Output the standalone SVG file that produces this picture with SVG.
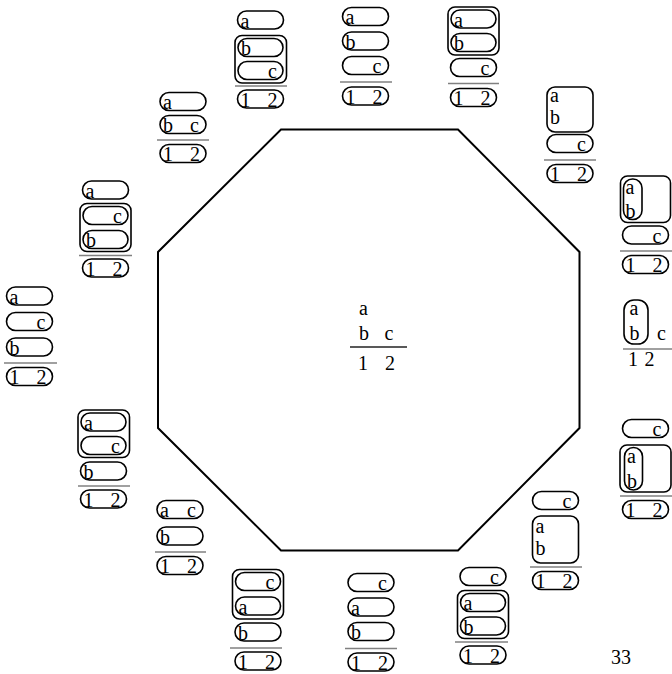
<svg xmlns="http://www.w3.org/2000/svg" width="672" height="674" viewBox="0 0 672 674" font-family="Liberation Serif, Times New Roman, serif" font-size="20">
<style>
.p{fill:none;stroke:#000;stroke-width:1.6}
.r{stroke:#808080;stroke-width:1.6}
text{font-family:'Liberation Serif','Times New Roman',serif;font-size:20px;fill:#000}
</style>
<rect width="672" height="674" fill="#fff"/>
<g id="octagon">
<polygon points="281,129.5 458,129.5 579.5,252 579.5,428 458,550.5 281,550.5 158,428 158,252" fill="none" stroke="#000" stroke-width="2"/>
</g>
<g id="n-center">
<text x="359" y="315">a</text>
<text x="359" y="340">b</text>
<text x="384.5" y="340">c</text>
<line x1="350" y1="347" x2="407" y2="347" stroke="#222" stroke-width="1.3"/>
<text x="358" y="370">1</text>
<text x="385" y="370">2</text>
</g>
<g id="n-top">
<rect class="p" x="342.5" y="7.5" width="46" height="18" rx="9"/><text x="345.5" y="24">a</text>
<rect class="p" x="342.5" y="32" width="46" height="18" rx="9"/><text x="345.5" y="48.5">b</text>
<rect class="p" x="342.5" y="56.5" width="46" height="18" rx="9"/><text x="372.5" y="73">c</text>
<line class="r" x1="340" y1="82" x2="392" y2="82"/>
<rect class="p" x="342.5" y="87" width="46" height="18" rx="9"/><text x="345.5" y="103.5">1</text><text x="372.5" y="103.5">2</text>
</g>
<g id="n-1">
<rect class="p" x="448" y="7" width="51" height="48" rx="7"/>
<rect class="p" x="451" y="10" width="45" height="18" rx="9"/><text x="454" y="26.5">a</text>
<rect class="p" x="451" y="33.5" width="45" height="18" rx="9"/><text x="454" y="50">b</text>
<rect class="p" x="450.5" y="58.5" width="46" height="18" rx="9"/><text x="480.5" y="75">c</text>
<line class="r" x1="448" y1="83.5" x2="499" y2="83.5"/>
<rect class="p" x="450.5" y="88.5" width="46" height="18" rx="9"/><text x="453.5" y="105">1</text><text x="480.5" y="105">2</text>
</g>
<g id="n-2">
<rect class="p" x="547" y="87" width="46" height="45" rx="8"/>
<text x="550" y="102">a</text><text x="550" y="123.5">b</text>
<rect class="p" x="547" y="134.5" width="46" height="18" rx="9"/><text x="577" y="151">c</text>
<line class="r" x1="544" y1="160" x2="596" y2="160"/>
<rect class="p" x="547" y="164.5" width="46" height="18" rx="9"/><text x="550" y="181">1</text><text x="577" y="181">2</text>
</g>
<g id="n-3">
<rect class="p" x="620.5" y="176" width="50" height="46.5" rx="7"/>
<rect class="p" x="623.5" y="179" width="18.5" height="40.5" rx="9"/>
<text x="625.5" y="194">a</text><text x="625.5" y="217.5">b</text>
<rect class="p" x="622.5" y="226" width="46" height="18" rx="9"/><text x="652.5" y="242.5">c</text>
<line class="r" x1="620" y1="251" x2="672" y2="251"/>
<rect class="p" x="622.5" y="255.5" width="46" height="18" rx="9"/><text x="625.5" y="272">1</text><text x="652.5" y="272">2</text>
</g>
<g id="n-4">
<rect class="p" x="624" y="300" width="24" height="44" rx="10"/>
<text x="629.5" y="315">a</text><text x="629.5" y="340">b</text><text x="657" y="340">c</text>
<line class="r" x1="623" y1="349" x2="672" y2="349"/>
<text x="628" y="366">1</text><text x="644.5" y="366">2</text>
</g>
<g id="n-5">
<rect class="p" x="622.5" y="419.5" width="46" height="18" rx="9"/><text x="652.5" y="436">c</text>
<rect class="p" x="620" y="445" width="51" height="47" rx="7"/>
<rect class="p" x="624.5" y="447.5" width="18" height="42.5" rx="9"/>
<text x="627" y="463">a</text><text x="627" y="487.5">b</text>
<line class="r" x1="620" y1="496" x2="672" y2="496"/>
<rect class="p" x="622.5" y="500.5" width="46" height="18" rx="9"/><text x="625.5" y="517">1</text><text x="652.5" y="517">2</text>
</g>
<g id="n-6">
<rect class="p" x="532.5" y="491.5" width="46" height="18" rx="9"/><text x="562.5" y="508">c</text>
<rect class="p" x="532.5" y="516" width="46" height="47" rx="8"/>
<text x="535.5" y="533">a</text><text x="535.5" y="555">b</text>
<line class="r" x1="530" y1="567" x2="582" y2="567"/>
<rect class="p" x="532.5" y="571.5" width="46" height="18" rx="9"/><text x="535.5" y="588">1</text><text x="562.5" y="588">2</text>
</g>
<g id="n-7">
<rect class="p" x="460" y="567.5" width="46" height="18" rx="9"/><text x="490" y="584">c</text>
<rect class="p" x="457.5" y="590.5" width="51" height="48" rx="7"/>
<rect class="p" x="460.5" y="593.5" width="45" height="18" rx="9"/><text x="463.5" y="610">a</text>
<rect class="p" x="460.5" y="617" width="45" height="18" rx="9"/><text x="463.5" y="633.5">b</text>
<line class="r" x1="455" y1="642" x2="508" y2="642"/>
<rect class="p" x="460" y="646" width="46" height="18" rx="9"/><text x="463" y="662.5">1</text><text x="490" y="662.5">2</text>
</g>
<g id="n-8">
<rect class="p" x="348" y="573.5" width="46" height="18" rx="9"/><text x="378" y="590">c</text>
<rect class="p" x="348" y="598" width="46" height="18" rx="9"/><text x="351" y="614.5">a</text>
<rect class="p" x="348" y="622.5" width="46" height="18" rx="9"/><text x="351" y="639">b</text>
<line class="r" x1="345" y1="648.5" x2="397" y2="648.5"/>
<rect class="p" x="348" y="653" width="46" height="18" rx="9"/><text x="351" y="669.5">1</text><text x="378" y="669.5">2</text>
</g>
<g id="n-9">
<rect class="p" x="232.5" y="569.5" width="51" height="49.5" rx="7"/>
<rect class="p" x="235.5" y="572.5" width="45" height="18" rx="9"/><text x="265.5" y="589">c</text>
<rect class="p" x="235.5" y="597" width="45" height="18" rx="9"/><text x="238.5" y="613.5">a</text>
<rect class="p" x="235" y="623" width="46" height="18" rx="9"/><text x="238" y="639.5">b</text>
<line class="r" x1="230" y1="648" x2="282" y2="648"/>
<rect class="p" x="235" y="652" width="46" height="18" rx="9"/><text x="238" y="668.5">1</text><text x="265" y="668.5">2</text>
</g>
<g id="n-10">
<rect class="p" x="157" y="500.5" width="46" height="18" rx="9"/><text x="160" y="517">a</text><text x="187" y="517">c</text>
<rect class="p" x="157" y="527" width="46" height="18" rx="9"/><text x="160" y="543.5">b</text>
<line class="r" x1="155" y1="552" x2="206" y2="552"/>
<rect class="p" x="157" y="556.5" width="46" height="18" rx="9"/><text x="160" y="573">1</text><text x="187" y="573">2</text>
</g>
<g id="n-11">
<rect class="p" x="78" y="410" width="51.5" height="47.5" rx="7"/>
<rect class="p" x="81" y="413" width="45" height="18" rx="9"/><text x="84" y="429.5">a</text>
<rect class="p" x="81" y="436.5" width="45" height="18" rx="9"/><text x="111" y="453">c</text>
<rect class="p" x="80.5" y="462" width="46" height="18" rx="9"/><text x="83.5" y="478.5">b</text>
<line class="r" x1="78" y1="486" x2="130" y2="486"/>
<rect class="p" x="80.5" y="490" width="46" height="18" rx="9"/><text x="83.5" y="506.5">1</text><text x="110.5" y="506.5">2</text>
</g>
<g id="n-12">
<rect class="p" x="6.5" y="287" width="46" height="18" rx="9"/><text x="9.5" y="303.5">a</text>
<rect class="p" x="6.5" y="312.5" width="46" height="18" rx="9"/><text x="36.5" y="329">c</text>
<rect class="p" x="6.5" y="338" width="46" height="18" rx="9"/><text x="9.5" y="354.5">b</text>
<line class="r" x1="4" y1="363" x2="57" y2="363"/>
<rect class="p" x="6.5" y="367.5" width="46" height="18" rx="9"/><text x="9.5" y="384">1</text><text x="36.5" y="384">2</text>
</g>
<g id="n-13">
<rect class="p" x="82.5" y="181" width="46" height="18" rx="9"/><text x="85.5" y="197.5">a</text>
<rect class="p" x="80" y="203.5" width="51" height="48" rx="7"/>
<rect class="p" x="83" y="206.5" width="45" height="18" rx="9"/><text x="113" y="223">c</text>
<rect class="p" x="83" y="230.5" width="45" height="18" rx="9"/><text x="86" y="247">b</text>
<line class="r" x1="79" y1="255.5" x2="132" y2="255.5"/>
<rect class="p" x="82.5" y="259" width="46" height="18" rx="9"/><text x="85.5" y="275.5">1</text><text x="112.5" y="275.5">2</text>
</g>
<g id="n-14">
<rect class="p" x="160" y="92.5" width="46" height="18" rx="9"/><text x="163" y="109">a</text>
<rect class="p" x="160" y="115.5" width="46" height="18" rx="9"/><text x="163" y="132">b</text><text x="190" y="132">c</text>
<line class="r" x1="157" y1="140" x2="209" y2="140"/>
<rect class="p" x="160" y="144.5" width="46" height="18" rx="9"/><text x="163" y="161">1</text><text x="190" y="161">2</text>
</g>
<g id="n-15">
<rect class="p" x="237.5" y="11" width="46" height="18" rx="9"/><text x="240.5" y="27.5">a</text>
<rect class="p" x="235" y="35.5" width="51.5" height="47.5" rx="7"/>
<rect class="p" x="238" y="38.5" width="45" height="18" rx="9"/><text x="241" y="55">b</text>
<rect class="p" x="238" y="61.5" width="45" height="18" rx="9"/><text x="268" y="78">c</text>
<line class="r" x1="235" y1="86" x2="287" y2="86"/>
<rect class="p" x="237.5" y="90" width="46" height="18" rx="9"/><text x="240.5" y="106.5">1</text><text x="267.5" y="106.5">2</text>
</g>
<g id="page-number">
<text x="611" y="664">33</text>
</g>
</svg>
